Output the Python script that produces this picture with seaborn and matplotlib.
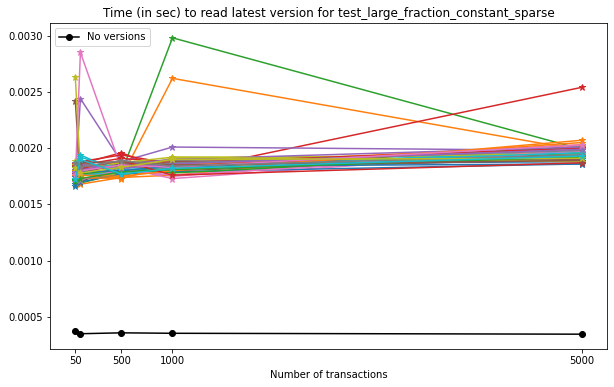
import matplotlib
matplotlib.use("Agg")
import matplotlib.pyplot as plt
import seaborn as sns
import pandas as pd

transactions = [50, 100, 500, 1000, 5000]
xtick_values = [50, 500, 1000, 5000]

no_versions = [0.000376, 0.000352, 0.000360, 0.000356, 0.000348]

versioned_series = [
    [0.00166, 0.00172, 0.00178, 0.00182, 0.00190],
    [0.00176, 0.00173, 0.00174, 0.00262, 0.00198],
    [0.00168, 0.00169, 0.00178, 0.00298, 0.00199],
    [0.00182, 0.00186, 0.00196, 0.00178, 0.00254],
    [0.00172, 0.00244, 0.00188, 0.00201, 0.00198],
    [0.00242, 0.00170, 0.00185, 0.00180, 0.00192],
    [0.00174, 0.00285, 0.00182, 0.00175, 0.00202],
    [0.00180, 0.00183, 0.00187, 0.00189, 0.00196],
    [0.00263, 0.00178, 0.00174, 0.00192, 0.00193],
    [0.00179, 0.00194, 0.00178, 0.00184, 0.00197],
    [0.00178, 0.00181, 0.00184, 0.00186, 0.00188],
    [0.00170, 0.00168, 0.00174, 0.00176, 0.00207],
    [0.00184, 0.00176, 0.00180, 0.00183, 0.00201],
    [0.00186, 0.00188, 0.00194, 0.00186, 0.00193],
    [0.00181, 0.00179, 0.00186, 0.00184, 0.00195],
    [0.00177, 0.00182, 0.00183, 0.00188, 0.00191],
    [0.00170, 0.00175, 0.00183, 0.00173, 0.00199],
    [0.00185, 0.00184, 0.00186, 0.00190, 0.00189],
    [0.00189, 0.00180, 0.00176, 0.00191, 0.00195],
    [0.00183, 0.00176, 0.00179, 0.00181, 0.00194],
    [0.00168, 0.00170, 0.00177, 0.00179, 0.00186],
    [0.00175, 0.00174, 0.00173, 0.00185, 0.00203],
    [0.00172, 0.00177, 0.00181, 0.00178, 0.00196],
    [0.00179, 0.00185, 0.00191, 0.00187, 0.00200],
    [0.00176, 0.00181, 0.00185, 0.00190, 0.00201],
    [0.00182, 0.00178, 0.00186, 0.00182, 0.00190],
    [0.00178, 0.00172, 0.00181, 0.00176, 0.00197],
    [0.00181, 0.00186, 0.00184, 0.00187, 0.00198],
    [0.00185, 0.00183, 0.00187, 0.00192, 0.00188],
    [0.00187, 0.00192, 0.00181, 0.00183, 0.00196],
    [0.00174, 0.00179, 0.00180, 0.00184, 0.00186],
    [0.00180, 0.00176, 0.00175, 0.00180, 0.00205],
    [0.00171, 0.00173, 0.00179, 0.00181, 0.00192],
    [0.00184, 0.00182, 0.00189, 0.00176, 0.00187],
    [0.00179, 0.00185, 0.00182, 0.00186, 0.00199],
    [0.00183, 0.00187, 0.00188, 0.00185, 0.00189],
    [0.00176, 0.00180, 0.00185, 0.00183, 0.00203],
    [0.00187, 0.00183, 0.00189, 0.00184, 0.00194],
    [0.00182, 0.00178, 0.00183, 0.00190, 0.00191],
    [0.00173, 0.00190, 0.00177, 0.00182, 0.00193],
]

title = "Time (in sec) to read latest version for test_large_fraction_constant_sparse"
xlabel = "Number of transactions"
legend_label = "No versions"

plt.rcParams["font.size"] = 10
plt.rcParams["font.family"] = ["DejaVu Sans"]

fig = plt.figure(figsize=(614 / 72, 387 / 72), dpi=72)
ax = fig.add_axes([50 / 614, 1 - 349 / 387, 557 / 614, 326 / 387])

sns.lineplot(x=transactions, y=no_versions, color="black", marker="o",
             markersize=6, markeredgecolor="black", markeredgewidth=1,
             linewidth=1.5, label=legend_label, ax=ax)

palette = sns.color_palette("tab10", 10)
for i, vals in enumerate(versioned_series):
    c = palette[i % 10]
    sns.lineplot(x=transactions, y=vals, color=c, marker="*",
                 markersize=7, markeredgecolor=c, markeredgewidth=1,
                 linewidth=1.5, ax=ax)

ax.set_xticks(xtick_values)
ax.set_xticklabels([str(v) for v in xtick_values])
ax.set_title(title)
ax.set_xlabel(xlabel)
ax.set_ylabel("")
ax.legend(loc="upper left")

fig.savefig("out.png", dpi=72)
